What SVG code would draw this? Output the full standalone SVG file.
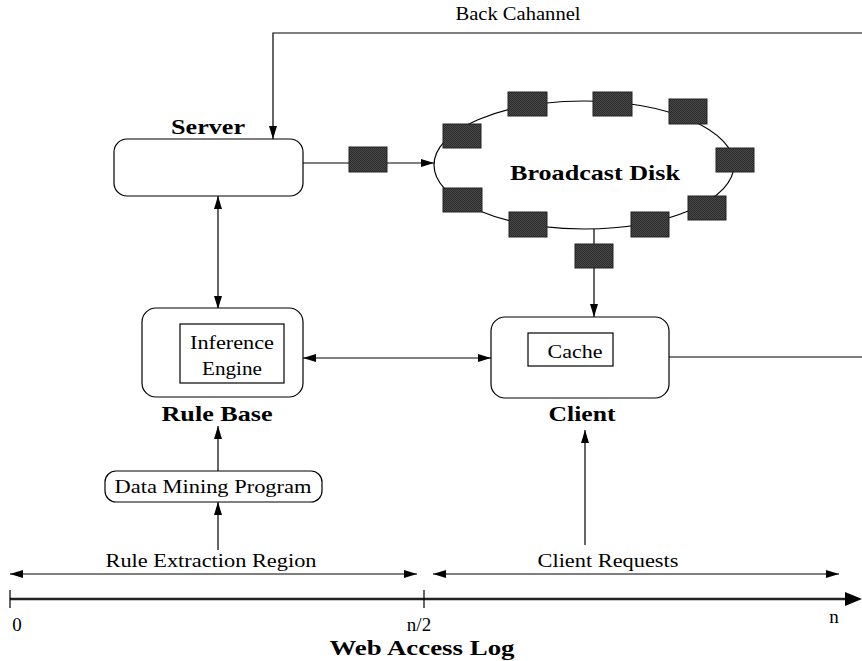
<svg xmlns="http://www.w3.org/2000/svg" width="862" height="661" viewBox="0 0 862 661">
<style>
.t{font-family:"Liberation Serif","Times New Roman",serif;font-size:19px;fill:#000}
.b{font-family:"Liberation Serif","Times New Roman",serif;font-size:21px;font-weight:bold;fill:#000}
.box{fill:#fff;stroke:#000;stroke-width:1.2}
.ln{fill:none;stroke:#000;stroke-width:1.2}
.pk{fill:url(#chk);stroke:#222;stroke-width:1}
</style>
<defs>
<pattern id="chk" width="2" height="2" patternUnits="userSpaceOnUse">
<rect width="2" height="2" fill="#4a4a4a"/>
<rect width="1" height="1" fill="#2a2a2a"/>
<rect x="1" y="1" width="1" height="1" fill="#2a2a2a"/>
</pattern>
<marker id="ae" markerUnits="userSpaceOnUse" markerWidth="14" markerHeight="10" refX="13" refY="5" orient="auto">
<path d="M0,1 L13,5 L0,9 Z" fill="#000"/>
</marker>
<marker id="as" markerUnits="userSpaceOnUse" markerWidth="14" markerHeight="10" refX="0" refY="5" orient="auto">
<path d="M13,1 L0,5 L13,9 Z" fill="#000"/>
</marker>
</defs>
<rect width="862" height="661" fill="#fff"/>

<g id="connectors">
<!-- back channel -->
<polyline class="ln" points="862,33 273,33 273,139" marker-end="url(#ae)"/>
<!-- server to disk -->
<line class="ln" x1="303" y1="163" x2="434" y2="163" marker-end="url(#ae)"/>
<!-- server <-> rule base -->
<line class="ln" x1="218" y1="196" x2="218" y2="309" marker-start="url(#as)" marker-end="url(#ae)"/>
<!-- rule base <-> client -->
<line class="ln" x1="303" y1="358" x2="491" y2="358" marker-start="url(#as)" marker-end="url(#ae)"/>
<!-- disk to client -->
<line class="ln" x1="594" y1="229" x2="594" y2="317" marker-end="url(#ae)"/>
<!-- client to right -->
<line class="ln" x1="669" y1="357" x2="862" y2="357"/>
<!-- data mining to rule base -->
<line class="ln" x1="218" y1="471" x2="218" y2="426" marker-end="url(#ae)"/>
<!-- rule extraction to data mining -->
<line class="ln" x1="218" y1="550" x2="218" y2="502" marker-end="url(#ae)"/>
<!-- client requests to client -->
<line class="ln" x1="585" y1="545" x2="585" y2="430" marker-end="url(#ae)"/>
<!-- range arrows -->
<line class="ln" x1="10" y1="574" x2="417" y2="574" marker-start="url(#as)" marker-end="url(#ae)"/>
<line class="ln" x1="433" y1="574" x2="839" y2="574" marker-start="url(#as)" marker-end="url(#ae)"/>
<!-- axis -->
<line x1="10" y1="599" x2="850" y2="599" stroke="#222" stroke-width="2.5"/>
<path d="M845,592 L862,599 L845,606 Z" fill="#000"/>
<line class="ln" x1="10" y1="590" x2="10" y2="608"/>
<line class="ln" x1="424" y1="590" x2="424" y2="608"/>
<!-- packet on server-disk link -->
<rect class="pk" x="349" y="147" width="38" height="25"/>
<!-- packet on disk-client link -->
<rect class="pk" x="575" y="244" width="38" height="24"/>
</g>

<g id="server">
<rect class="box" x="114" y="139" width="189" height="57" rx="13"/>
<text class="b" x="208" y="134" text-anchor="middle" textLength="74" lengthAdjust="spacingAndGlyphs">Server</text>
</g>

<g id="broadcast-disk">
<ellipse class="ln" cx="584" cy="165" rx="150" ry="64"/>
<rect class="pk" x="443" y="124" width="38" height="24"/>
<rect class="pk" x="508" y="92" width="39" height="24"/>
<rect class="pk" x="593" y="92" width="39" height="24"/>
<rect class="pk" x="669" y="99" width="38" height="25"/>
<rect class="pk" x="716" y="148" width="38" height="24"/>
<rect class="pk" x="688" y="196" width="38" height="24"/>
<rect class="pk" x="631" y="212" width="38" height="25"/>
<rect class="pk" x="509" y="212" width="38" height="25"/>
<rect class="pk" x="443" y="188" width="39" height="24"/>
<text class="b" x="595" y="180" text-anchor="middle" textLength="170" lengthAdjust="spacingAndGlyphs">Broadcast Disk</text>
</g>

<g id="rule-base">
<rect class="box" x="142" y="308" width="161" height="89" rx="14"/>
<rect class="box" x="180" y="324" width="104" height="59" rx="0"/>
<text class="t" x="232" y="349" text-anchor="middle" textLength="84" lengthAdjust="spacingAndGlyphs">Inference</text>
<text class="t" x="232" y="375" text-anchor="middle" textLength="60" lengthAdjust="spacingAndGlyphs">Engine</text>
<text class="b" x="217" y="421" text-anchor="middle" textLength="111" lengthAdjust="spacingAndGlyphs">Rule Base</text>
</g>

<g id="client">
<rect class="box" x="491" y="317" width="178" height="81" rx="14"/>
<rect class="box" x="528" y="333" width="85" height="33" rx="0"/>
<text class="t" x="575" y="358" text-anchor="middle" textLength="55" lengthAdjust="spacingAndGlyphs">Cache</text>
<text class="b" x="582" y="421" text-anchor="middle" textLength="67" lengthAdjust="spacingAndGlyphs">Client</text>
</g>

<g id="data-mining">
<rect class="box" x="105" y="471" width="217" height="31" rx="11"/>
<text class="t" x="213" y="493" text-anchor="middle" textLength="197" lengthAdjust="spacingAndGlyphs">Data Mining Program</text>
</g>

<g id="labels">
<text class="t" x="518" y="20" text-anchor="middle" textLength="125" lengthAdjust="spacingAndGlyphs">Back Cahannel</text>
<text class="t" x="211" y="567" text-anchor="middle" textLength="211" lengthAdjust="spacingAndGlyphs">Rule Extraction Region</text>
<text class="t" x="608" y="567" text-anchor="middle" textLength="141" lengthAdjust="spacingAndGlyphs">Client Requests</text>
<text class="t" x="17" y="631" text-anchor="middle">0</text>
<text class="t" x="419" y="631" text-anchor="middle">n/2</text>
<text class="t" x="834" y="623" text-anchor="middle">n</text>
<text class="b" x="422" y="655" text-anchor="middle" textLength="185" lengthAdjust="spacingAndGlyphs">Web Access Log</text>
</g>
</svg>
